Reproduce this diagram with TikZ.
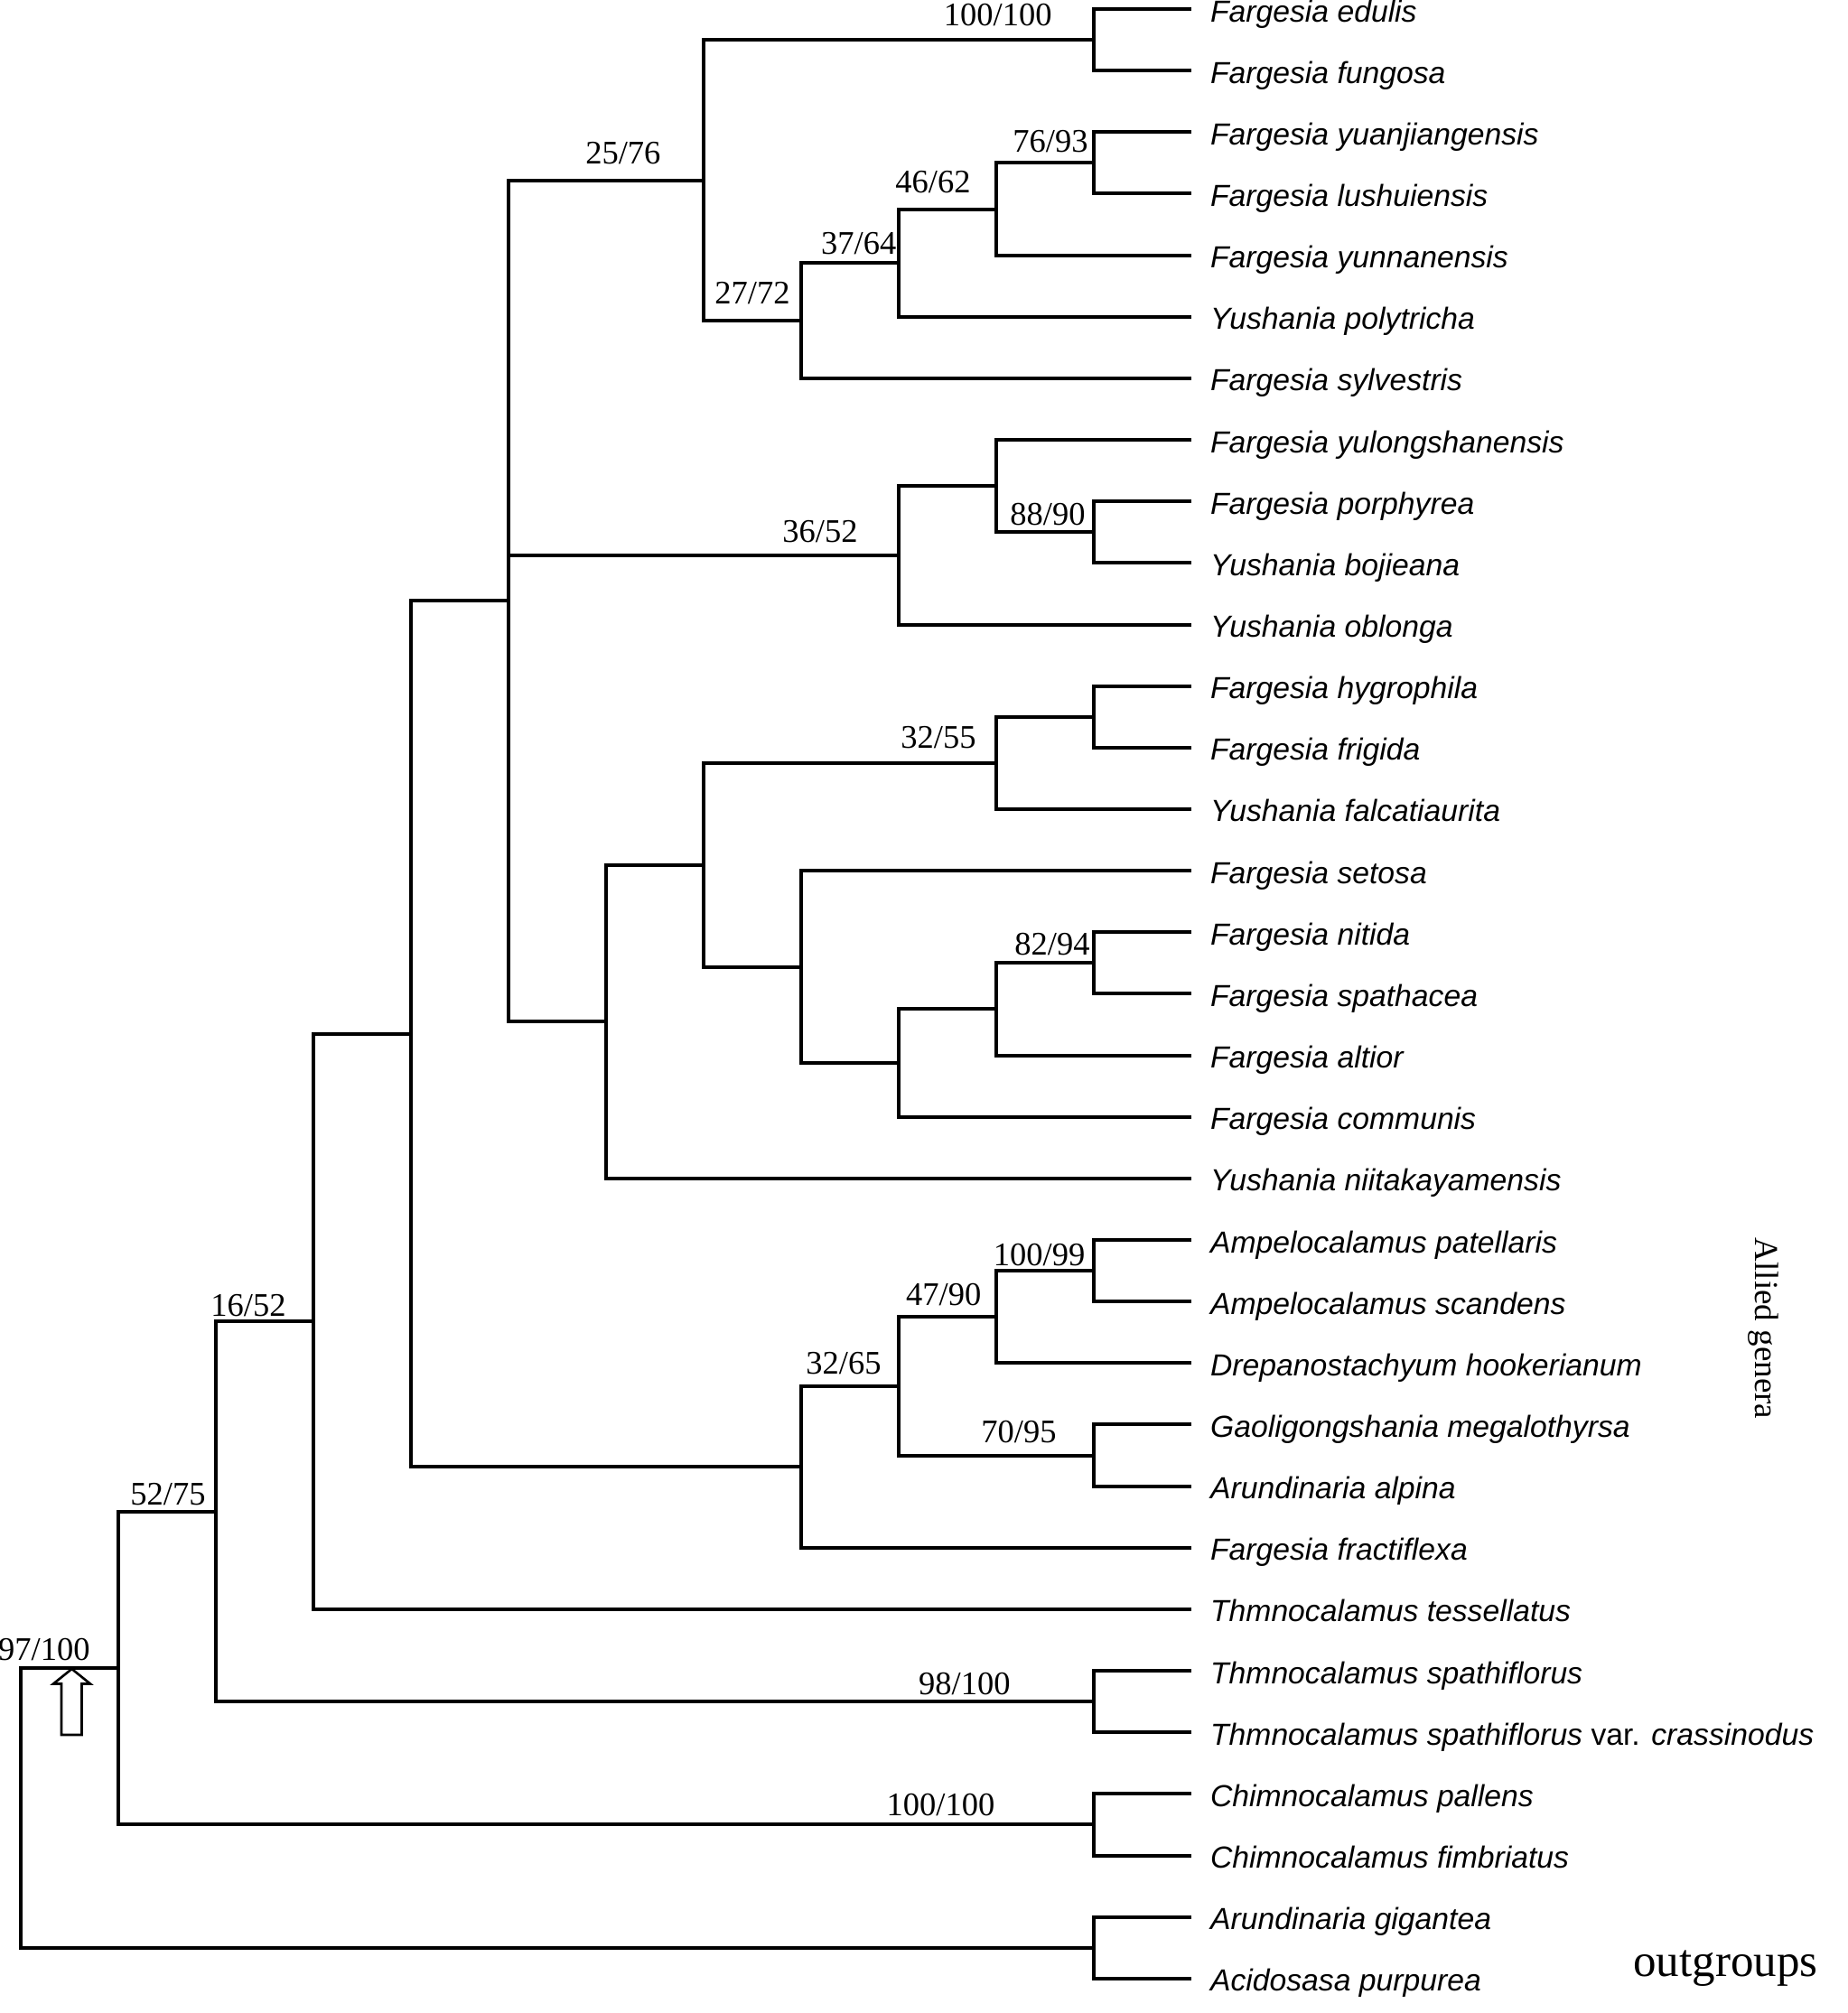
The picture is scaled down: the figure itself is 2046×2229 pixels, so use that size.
\documentclass[tikz,border=0pt]{standalone}
\usepackage{fontspec}
\setmainfont{Liberation Serif}
\newfontfamily\taxfont{Liberation Sans}
\begin{document}
\begin{tikzpicture}[x=0.5pt,y=-0.5pt,
  branch/.style={line width=2pt, line join=miter},
  taxon/.style={anchor=base west, inner sep=0pt, xshift=10.5pt, yshift=-7pt,
    font=\taxfont\itshape\fontsize{16.85pt}{18pt}\selectfont},
  support/.style={anchor=base east, inner sep=0pt,
    font=\fontsize{18.25pt}{20pt}\selectfont},
  arrowshape/.style={line width=1.3pt, line join=miter, fill=white}]
\useasboundingbox (0,0) rectangle (2046,2229);

% leaf ends
\coordinate (l1) at (1318.7,10);
\coordinate (l2) at (1318.7,78.15);
\coordinate (l3) at (1318.7,146.3);
\coordinate (l4) at (1318.7,214.45);
\coordinate (l5) at (1318.7,282.6);
\coordinate (l6) at (1318.7,350.75);
\coordinate (l7) at (1318.7,418.9);
\coordinate (l8) at (1318.7,487.05);
\coordinate (l9) at (1318.7,555.2);
\coordinate (l10) at (1318.7,623.35);
\coordinate (l11) at (1318.7,691.5);
\coordinate (l12) at (1318.7,759.65);
\coordinate (l13) at (1318.7,827.8);
\coordinate (l14) at (1318.7,895.95);
\coordinate (l15) at (1318.7,964.1);
\coordinate (l16) at (1318.7,1032.25);
\coordinate (l17) at (1318.7,1100.4);
\coordinate (l18) at (1318.7,1168.55);
\coordinate (l19) at (1318.7,1236.7);
\coordinate (l20) at (1318.7,1304.85);
\coordinate (l21) at (1318.7,1373);
\coordinate (l22) at (1318.7,1441.15);
\coordinate (l23) at (1318.7,1509.3);
\coordinate (l24) at (1318.7,1577.45);
\coordinate (l25) at (1318.7,1645.6);
\coordinate (l26) at (1318.7,1713.75);
\coordinate (l27) at (1318.7,1781.9);
\coordinate (l28) at (1318.7,1850.05);
\coordinate (l29) at (1318.7,1918.2);
\coordinate (l30) at (1318.7,1986.35);
\coordinate (l31) at (1318.7,2054.5);
\coordinate (l32) at (1318.7,2122.65);
\coordinate (l33) at (1318.7,2190.8);

% internal nodes
\coordinate (A) at (1210.7,44.08);
\coordinate (B) at (1210.7,180.38);
\coordinate (C) at (1102.7,231.49);
\coordinate (D) at (994.7,291.12);
\coordinate (E) at (886.7,355.0);
\coordinate (F) at (778.7,199.54);
\coordinate (G) at (1210.7,589.28);
\coordinate (H) at (1102.7,538.16);
\coordinate (I) at (994.7,614.83);
\coordinate (J) at (1210.7,793.73);
\coordinate (K) at (1102.7,844.84);
\coordinate (L) at (1210.7,1066.33);
\coordinate (M) at (1102.7,1117.44);
\coordinate (N) at (994.7,1177.07);
\coordinate (O) at (886.7,1070.59);
\coordinate (P) at (778.7,957.71);
\coordinate (Q) at (670.7,1131.28);
\coordinate (R) at (562.7,665.41);
\coordinate (S) at (1210.7,1407.08);
\coordinate (T) at (1102.7,1458.19);
\coordinate (U) at (1210.7,1611.53);
\coordinate (V) at (994.7,1534.86);
\coordinate (W) at (886.7,1624.30);
\coordinate (X) at (454.7,1144.86);
\coordinate (Y) at (346.7,1463.38);
\coordinate (Z) at (1210.7,1884.13);
\coordinate (AA) at (238.7,1673.75);
\coordinate (BB) at (1210.7,2020.43);
\coordinate (CC) at (130.7,1847.09);
\coordinate (DD) at (1210.7,2156.73);
\coordinate (root) at (22.7,2001.91);

% branches
\begin{scope}[branch]
\draw (l1) -| (A) |- (l2);
\draw (l3) -| (B) |- (l4);
\draw (B) -| (C) |- (l5);
\draw (C) -| (D) |- (l6);
\draw (D) -| (E) |- (l7);
\draw (A) -| (F) |- (E);
\draw (l9) -| (G) |- (l10);
\draw (l8) -| (H) |- (G);
\draw (H) -| (I) |- (l11);
\draw (l12) -| (J) |- (l13);
\draw (J) -| (K) |- (l14);
\draw (l16) -| (L) |- (l17);
\draw (L) -| (M) |- (l18);
\draw (M) -| (N) |- (l19);
\draw (l15) -| (O) |- (N);
\draw (K) -| (P) |- (O);
\draw (P) -| (Q) |- (l20);
\draw (F) -| (R) |- (Q);
\draw (R |- I) -- (I);
\draw (l21) -| (S) |- (l22);
\draw (S) -| (T) |- (l23);
\draw (l24) -| (U) |- (l25);
\draw (T) -| (V) |- (U);
\draw (V) -| (W) |- (l26);
\draw (R) -| (X) |- (W);
\draw (X) -| (Y) |- (l27);
\draw (l28) -| (Z) |- (l29);
\draw (Y) -| (AA) |- (Z);
\draw (l30) -| (BB) |- (l31);
\draw (AA) -| (CC) |- (BB);
\draw (l32) -| (DD) |- (l33);
\draw (CC) -| (root) |- (DD);
\end{scope}

% taxa
\node[taxon] (t1) at (l1) {Fargesia edulis};
\node[taxon] (t2) at (l2) {Fargesia fungosa};
\node[taxon] (t3) at (l3) {Fargesia yuanjiangensis};
\node[taxon] (t4) at (l4) {Fargesia lushuiensis};
\node[taxon] (t5) at (l5) {Fargesia yunnanensis};
\node[taxon] (t6) at (l6) {Yushania polytricha};
\node[taxon] (t7) at (l7) {Fargesia sylvestris};
\node[taxon] (t8) at (l8) {Fargesia yulongshanensis};
\node[taxon] (t9) at (l9) {Fargesia porphyrea};
\node[taxon] (t10) at (l10) {Yushania bojieana};
\node[taxon] (t11) at (l11) {Yushania oblonga};
\node[taxon] (t12) at (l12) {Fargesia hygrophila};
\node[taxon] (t13) at (l13) {Fargesia frigida};
\node[taxon] (t14) at (l14) {Yushania falcatiaurita};
\node[taxon] (t15) at (l15) {Fargesia setosa};
\node[taxon] (t16) at (l16) {Fargesia nitida};
\node[taxon] (t17) at (l17) {Fargesia spathacea};
\node[taxon] (t18) at (l18) {Fargesia altior};
\node[taxon] (t19) at (l19) {Fargesia communis};
\node[taxon] (t20) at (l20) {Yushania niitakayamensis};
\node[taxon] (t21) at (l21) {Ampelocalamus patellaris};
\node[taxon] (t22) at (l22) {Ampelocalamus scandens};
\node[taxon] (t23) at (l23) {Drepanostachyum hookerianum};
\node[taxon] (t24) at (l24) {Gaoligongshania megalothyrsa};
\node[taxon] (t25) at (l25) {Arundinaria alpina};
\node[taxon] (t26) at (l26) {Fargesia fractiflexa};
\node[taxon] (t27) at (l27) {Thmnocalamus tessellatus};
\node[taxon] (t28) at (l28) {Thmnocalamus spathiflorus};
\node[taxon] (t29) at (l29) {Thmnocalamus spathiflorus {\upshape var.} crassinodus};
\node[taxon] (t30) at (l30) {Chimnocalamus pallens};
\node[taxon] (t31) at (l31) {Chimnocalamus fimbriatus};
\node[taxon] (t32) at (l32) {Arundinaria gigantea};
\node[taxon] (t33) at (l33) {Acidosasa purpurea};

% support values
\node[support] (sA) at (1165,28.3) {100/100};
\node[support] (sF) at (731.8,181.7) {25/76};
\node[support] (sB) at (1205,168.3) {76/93};
\node[support] (sC) at (1075,213.3) {46/62};
\node[support] (sD) at (992.7,281) {37/64};
\node[support] (sE) at (875,336.7) {27/72};
\node[support] (sI) at (950,600) {36/52};
\node[support] (sG) at (1202,581.7) {88/90};
\node[support] (sK) at (1081,828) {32/55};
\node[support] (sL) at (1207,1057) {82/94};
\node[support] (sS) at (1201.7,1401.7) {100/99};
\node[support] (sT) at (1086.7,1445) {47/90};
\node[support] (sU) at (1170,1597.3) {70/95};
\node[support] (sV) at (976,1521) {32/65};
\node[support] (sY) at (317,1457) {16/52};
\node[support] (sAA) at (228,1666.7) {52/75};
\node[support] (sZ) at (1119,1876.7) {98/100};
\node[support] (sBB) at (1101.7,2010.7) {100/100};
\node[support] (sCC) at (100,1838) {97/100};

% hollow arrow
\draw[arrowshape] (79.5,1848) -- (100,1864.5) -- (90.5,1864.5) -- (90.5,1921) -- (68,1921) -- (68,1864.5) -- (59,1864.5) -- cycle;

% group labels
\node[rotate=-90, anchor=base, inner sep=0pt, font=\fontsize{18.5pt}{20pt}\selectfont] (allied) at (1943,1471) {Allied genera};
\node[anchor=base west, inner sep=0pt, font=\fontsize{25.5pt}{28pt}\selectfont] (outg) at (1808,2188) {outgroups};
\end{tikzpicture}
\end{document}
